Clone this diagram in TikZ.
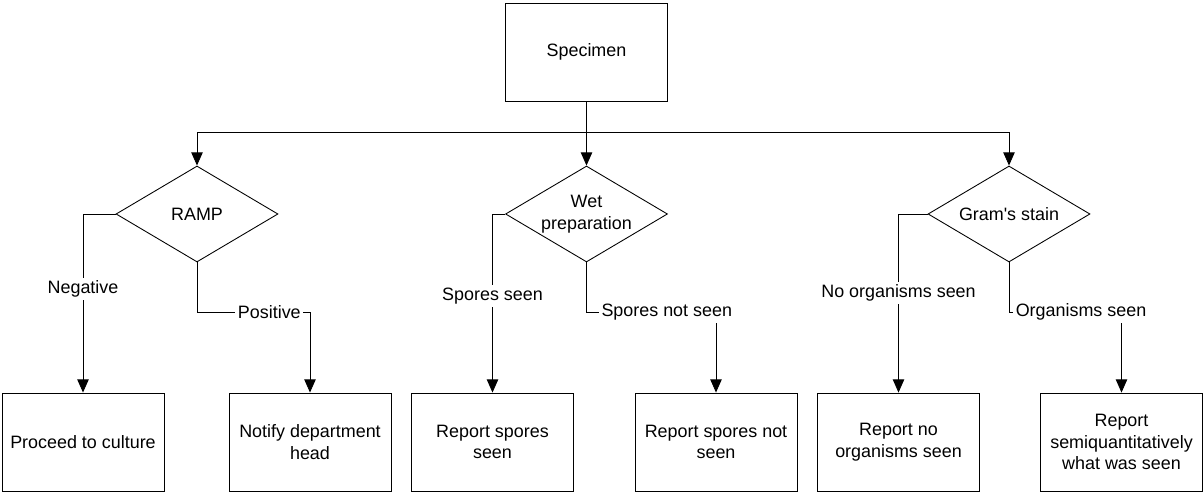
\documentclass[tikz,border=0pt]{standalone}
\usepackage{fontspec}
\setmainfont{Liberation Sans}
\usetikzlibrary{arrows.meta,shapes.geometric}

\begin{document}
\begin{tikzpicture}[x=0.02cm, y=-0.02cm,
font=\fontsize{10.2}{12.3}\selectfont,
line width=0.5pt,
box/.style={rectangle, draw=black, minimum width=3.24cm, minimum height=1.96cm, align=center, inner sep=0pt},
decision/.style={diamond, draw=black, minimum width=3.24cm, minimum height=1.92cm, inner sep=0pt},
arrow/.style={-{Triangle[length=7.5pt,width=6.5pt]}},
branch/.style={fill=white, inner sep=1.5pt},
]

\useasboundingbox (0,0) rectangle (1203,492);

\node[box]              (specimen)         at (586.5,52)     {Specimen};
\coordinate             (split)            at (586.5,132);
\coordinate             (lowbend)          at (0,312);

\node[decision]         (ramp)             at (197,214)      {};
\node                   (ramptext)         at (ramp)         {RAMP};
\node[decision]         (wet)              at (586.5,214)    {};
\node[align=center]     (wettext)          at (wet)          {Wet\\preparation};
\node[decision]         (gram)             at (1009,214)     {};
\node                   (gramtext)         at (gram)         {Gram\textquotesingle s stain};

\node[box]              (culture)          at (83,442)       {Proceed to culture};
\node[box]              (notify)           at (310,442)      {Notify department\\head};
\node[box]              (sporesseen)       at (492.5,442)    {Report spores\\seen};
\node[box]              (sporesnot)        at (716,442)      {Report spores not\\seen};
\node[box]              (noorg)            at (898.5,442)    {Report no\\organisms seen};
\node[box]              (semiq)            at (1121.5,442)   {Report\\semiquantitatively\\what was seen};

\draw (specimen.south) -- (split);
\draw[arrow] (split) -| (ramp.north);
\draw[arrow] (split) -- (wet.north);
\draw[arrow] (split) -| (gram.north);

\draw[arrow] (ramp.west) -| node[branch, pos=0.71] (neg) {Negative} (culture.north);
\draw[arrow] (ramp.south) |- node[branch, pos=0.82] (posit) {Positive} (notify.north |- lowbend) -- (notify.north);

\draw[arrow] (wet.west) -| node[branch, pos=0.73] (seen) {Spores seen} (sporesseen.north);
\draw[arrow] (wet.south) |- node[branch, pos=0.81] (notseen) {Spores not seen} (sporesnot.north |- lowbend) -- (sporesnot.north);

\draw[arrow] (gram.west) -| node[branch, pos=0.72] (noorgs) {No organisms seen} (noorg.north);
\draw[arrow] (gram.south) |- node[branch, pos=0.82] (orgs) {Organisms seen} (semiq.north |- lowbend) -- (semiq.north);

\end{tikzpicture}
\end{document}
